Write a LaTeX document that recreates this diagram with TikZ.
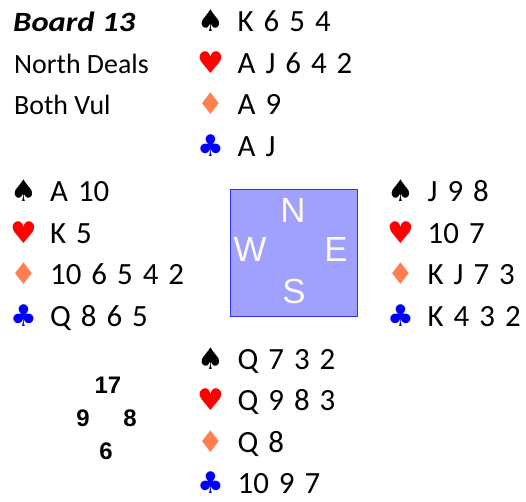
\documentclass[tikz,border=0pt]{standalone}
\usepackage{fontspec}
\setmainfont{Carlito}
\newfontfamily\cardfont[WordSpace=1.43]{Carlito}
\newfontfamily\boardfont[FakeStretch=1.17]{Carlito}
\newfontfamily\symfont{DejaVu Sans}
\newfontfamily\arialfont{Liberation Sans}
\definecolor{spadec}{HTML}{000000}
\definecolor{heartc}{HTML}{FF0000}
\definecolor{diamc}{HTML}{FF7F50}
\definecolor{clubc}{HTML}{0000FF}
\definecolor{boxfill}{HTML}{A0A0FF}
\definecolor{boxline}{HTML}{3030FF}
\definecolor{compassc}{HTML}{FFFAF0}
\tikzset{
  txt/.style={anchor=base west, inner sep=0pt, font=\fontsize{28}{30}\selectfont},
  cards/.style={anchor=base west, inner sep=0pt, font=\cardfont\fontsize{31}{33}\selectfont},
  suit/.style={anchor=base, inner sep=0pt, font=\symfont\fontsize{30}{32}\selectfont},
  cmp/.style={anchor=center, inner sep=0pt, text=compassc, font=\arialfont\fontsize{35}{37}\selectfont},
  hcp/.style={anchor=center, inner sep=0pt, font=\arialfont\bfseries\fontsize{24}{26}\selectfont},
}
\begin{document}
\begin{tikzpicture}[x=1bp,y=-1bp]
\useasboundingbox (0,0) rectangle (526,502);
% info
\node[txt, font=\boardfont\bfseries\itshape\fontsize{28}{30}\selectfont] (board) at (13,32) {Board 13};
\node[txt] (deal) at (14,73.5) {North Deals};
\node[txt] (vul) at (14,115) {Both Vul};
% North
\node[suit, text=spadec] (ns) at (211,32) {♠};
\node[suit, text=heartc] (nh) at (211,73.5) {♥};
\node[suit, text=diamc] (nd) at (211,115) {♦};
\node[suit, text=clubc] (nc) at (211,156.5) {♣};
\node[cards] (nst) at (237.5,32) {K 6 5 4};
\node[cards] (nht) at (237.5,73.5) {A J 6 4 2};
\node[cards] (ndt) at (237.5,115) {A 9};
\node[cards] (nct) at (237.5,156.5) {A J};
% West
\node[suit, text=spadec] (ws) at (24,201.5) {♠};
\node[suit, text=heartc] (wh) at (24,243) {♥};
\node[suit, text=diamc] (wd) at (24,284.5) {♦};
\node[suit, text=clubc] (wc) at (24,326) {♣};
\node[cards] (wst) at (50,201.5) {A 10};
\node[cards] (wht) at (50,243) {K 5};
\node[cards] (wdt) at (50,284.5) {10 6 5 4 2};
\node[cards] (wct) at (50,326) {Q 8 6 5};
% East
\node[suit, text=spadec] (es) at (401,201.5) {♠};
\node[suit, text=heartc] (eh) at (401,243) {♥};
\node[suit, text=diamc] (ed) at (401,284.5) {♦};
\node[suit, text=clubc] (ec) at (401,326) {♣};
\node[cards] (est) at (427.5,201.5) {J 9 8};
\node[cards] (eht) at (427.5,243) {10 7};
\node[cards] (edt) at (427.5,284.5) {K J 7 3};
\node[cards] (ect) at (427.5,326) {K 4 3 2};
% South
\node[suit, text=spadec] (ss) at (211,369) {♠};
\node[suit, text=heartc] (sh) at (211,410.5) {♥};
\node[suit, text=diamc] (sd) at (211,452) {♦};
\node[suit, text=clubc] (sc) at (211,493.5) {♣};
\node[cards] (sst) at (237.5,369) {Q 7 3 2};
\node[cards] (sht) at (237.5,410.5) {Q 9 8 3};
\node[cards] (sdt) at (237.5,452) {Q 8};
\node[cards] (sct) at (237.5,493.5) {10 9 7};
% compass
\draw[draw=boxline, fill=boxfill, line width=0.8bp] (230,189) rectangle (357,316);
\node[cmp] (cn) at (293,211) {N};
\node[cmp] (cw) at (250,250) {W};
\node[cmp] (ce) at (336,250) {E};
\node[cmp] (cs) at (294,291) {S};
% HCP
\node[hcp] (h17) at (108,385) {17};
\node[hcp] (h9) at (83,418) {9};
\node[hcp] (h8) at (130,418) {8};
\node[hcp] (h6) at (106,451) {6};
\end{tikzpicture}
\end{document}
